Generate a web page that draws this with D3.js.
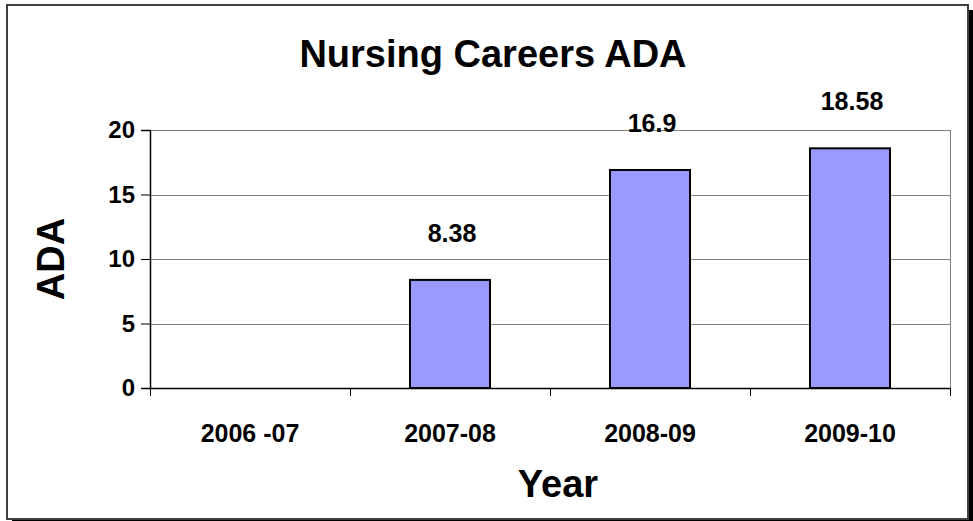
<!DOCTYPE html>
<html>
<head>
<meta charset="utf-8">
<script src="https://cdn.jsdelivr.net/npm/d3@7"></script>
<style>
  html, body { margin: 0; padding: 0; background: #fff; }
  svg { display: block; }
  text { font-family: "Liberation Sans", Arial, sans-serif; font-weight: bold; fill: #000; }
</style>
</head>
<body>
<script>
const categories = ["2006 -07", "2007-08", "2008-09", "2009-10"];
const values = [0, 8.38, 16.9, 18.58];
const valueLabels = ["", "8.38", "16.9", "18.58"];
const yTicks = [0, 5, 10, 15, 20];
const titleText = "Nursing Careers ADA";
const xTitle = "Year";
const yTitle = "ADA";

const W = 973, H = 521;
const svg = d3.select("body").append("svg").attr("width", W).attr("height", H);

// chart area with shadow
svg.append("rect").attr("x", 12).attr("y", 10).attr("width", 961).attr("height", 514).attr("fill", "#000");
svg.append("rect").attr("x", 7).attr("y", 5).attr("width", 961).attr("height", 514)
  .attr("fill", "#fff").attr("stroke", "#404040").attr("stroke-width", 2);

const plot = { left: 150, right: 950, top: 130, bottom: 388 };

const x = d3.scaleBand().domain(categories).range([plot.left, plot.right]).paddingInner(0.6).paddingOuter(0.3);
const xOuter = d3.scaleBand().domain(categories).range([plot.left, plot.right]).padding(0);
const y = d3.scaleLinear().domain([0, 20]).range([plot.bottom, plot.top]);

// gridlines
svg.append("g").selectAll("line").data(yTicks.filter(d => d > 0)).join("line")
  .attr("x1", plot.left).attr("x2", plot.right)
  .attr("y1", d => Math.round(y(d)) + 0.5).attr("y2", d => Math.round(y(d)) + 0.5)
  .attr("stroke", "#808080").attr("stroke-width", 1);

// plot border right
svg.append("line").attr("x1", plot.right + 0.5).attr("x2", plot.right + 0.5)
  .attr("y1", plot.top).attr("y2", plot.bottom).attr("stroke", "#808080");

// bars
svg.append("g").selectAll("rect").data(categories.map((c, i) => ({ c, v: values[i] })).filter(d => d.v > 0))
  .join("rect")
  .attr("x", d => x(d.c)).attr("width", x.bandwidth())
  .attr("y", d => y(d.v)).attr("height", d => y(0) - y(d.v))
  .attr("fill", "#9999FF").attr("stroke", "#000").attr("stroke-width", 2);

// value labels
svg.append("g").selectAll("text").data(categories.map((c, i) => ({ c, v: values[i], l: valueLabels[i] })).filter(d => d.l))
  .join("text")
  .attr("x", d => x(d.c) + x.bandwidth() / 2 + 2)
  .attr("y", d => y(d.v) - 38)
  .attr("text-anchor", "middle").attr("font-size", 25)
  .text(d => d.l);

// y axis
const yAxis = svg.append("g").attr("transform", `translate(${plot.left},0)`)
  .call(d3.axisLeft(y).tickValues(yTicks).tickSize(9).tickPadding(6).tickFormat(d3.format("d")));
yAxis.select(".domain").attr("stroke", "#000").attr("stroke-width", 1.5);
yAxis.selectAll(".tick line").attr("stroke", "#000");
yAxis.selectAll("text").attr("font-size", 24).attr("font-family", null).style("font-weight", "bold");

// x axis
const xAxis = svg.append("g").attr("transform", `translate(0,${plot.bottom})`)
  .call(d3.axisBottom(xOuter).tickSize(0).tickPadding(0).tickFormat(""));
xAxis.select(".domain").attr("stroke", "#000").attr("stroke-width", 1.5);
xAxis.selectAll(".tick").remove();
const boundaries = categories.map(c => xOuter(c)).concat([plot.right]);
xAxis.selectAll("line.bt").data(boundaries).join("line").attr("class", "bt")
  .attr("x1", d => d + 0.5).attr("x2", d => d + 0.5).attr("y1", 0).attr("y2", 8)
  .attr("stroke", "#000");
xAxis.selectAll("text.cl").data(categories).join("text").attr("class", "cl")
  .attr("x", d => xOuter(d) + xOuter.bandwidth() / 2)
  .attr("y", 54)
  .attr("text-anchor", "middle").attr("font-size", 25)
  .text(d => d);

// titles
svg.append("text").attr("x", 493).attr("y", 67).attr("text-anchor", "middle")
  .attr("font-size", 38).text(titleText);
svg.append("text").attr("x", 558).attr("y", 497).attr("text-anchor", "middle")
  .attr("font-size", 38).text(xTitle);
svg.append("text").attr("transform", "translate(64,259) rotate(-90)").attr("text-anchor", "middle")
  .attr("font-size", 38).text(yTitle);
</script>
</body>
</html>
